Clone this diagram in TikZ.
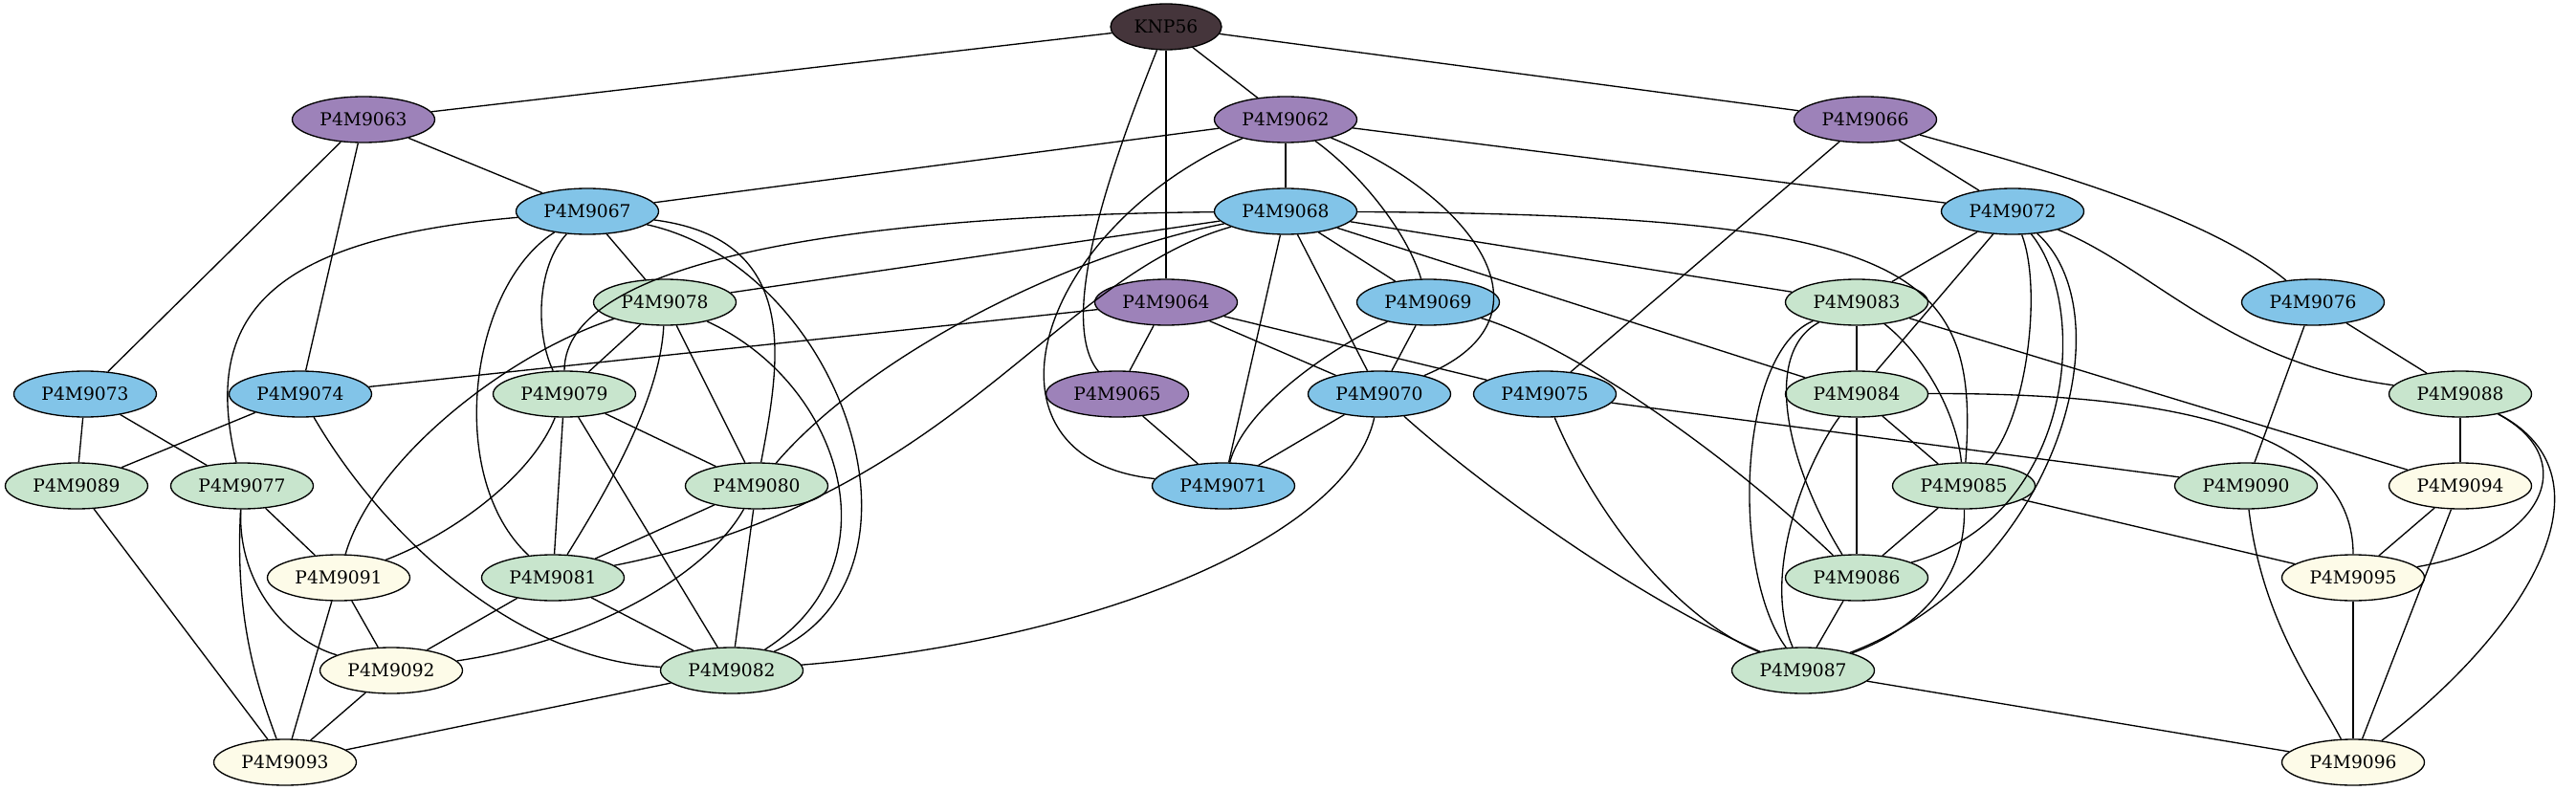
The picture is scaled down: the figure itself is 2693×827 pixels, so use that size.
\documentclass[tikz,border=0pt]{standalone}
\usepackage{fontspec}
\setmainfont{DejaVu Serif}
\usetikzlibrary{shapes.geometric}

\definecolor{knpfill}{HTML}{45353B}
\definecolor{purpfill}{HTML}{9D82B9}
\definecolor{bluefill}{HTML}{82C4E8}
\definecolor{greenfill}{HTML}{C8E5CD}
\definecolor{creamfill}{HTML}{FDFBE8}

\tikzset{
    gene/.style={ellipse, draw=black, line width=1pt, inner sep=0pt,
        minimum width=111.75pt, minimum height=36pt,
        font=\fontsize{14}{16}\selectfont},
    link/.style={line width=1pt},
}

\begin{document}
\begin{tikzpicture}[x=0.75pt, y=-0.75pt]
    \useasboundingbox (0,0) rectangle (2693,827);

    \node[gene, fill=knpfill, minimum width=87pt] (KNP56) at (1219,28) {KNP56};
    \foreach \n/\x/\y in {P4M9062/1344/125, P4M9063/380/125, P4M9066/1950/125,
        P4M9064/1219/316, P4M9065/1168/412}
        \node[gene, fill=purpfill] (\n) at (\x,\y) {\n};
    \foreach \n/\x/\y in {P4M9067/614/221, P4M9068/1344/221, P4M9072/2104/221,
        P4M9069/1493/316, P4M9076/2418/316, P4M9073/89/412, P4M9074/314/412,
        P4M9070/1442/412, P4M9075/1615/412, P4M9071/1279/508}
        \node[gene, fill=bluefill] (\n) at (\x,\y) {\n};
    \foreach \n/\x/\y in {P4M9078/695/316, P4M9083/1941/316, P4M9079/590/412,
        P4M9084/1941/412, P4M9088/2572/412, P4M9089/80/508, P4M9077/253/508,
        P4M9080/791/508, P4M9085/2053/508, P4M9090/2348/508, P4M9081/578/604,
        P4M9086/1941/604, P4M9082/765/701, P4M9087/1885/701}
        \node[gene, fill=greenfill] (\n) at (\x,\y) {\n};
    \foreach \n/\x/\y in {P4M9094/2572/508, P4M9091/354/604, P4M9095/2460/604,
        P4M9092/409/701, P4M9093/298/797, P4M9096/2460/797}
        \node[gene, fill=creamfill] (\n) at (\x,\y) {\n};

    % straight edges
    \foreach \a/\b in {KNP56/P4M9063, KNP56/P4M9062, KNP56/P4M9066, KNP56/P4M9064,
        P4M9063/P4M9067, P4M9063/P4M9073, P4M9063/P4M9074,
        P4M9062/P4M9067, P4M9062/P4M9068, P4M9062/P4M9072,
        P4M9066/P4M9072, P4M9066/P4M9075, P4M9067/P4M9078,
        P4M9068/P4M9078, P4M9068/P4M9069, P4M9068/P4M9070, P4M9068/P4M9071,
        P4M9068/P4M9083, P4M9068/P4M9084, P4M9072/P4M9083, P4M9072/P4M9084,
        P4M9078/P4M9079, P4M9078/P4M9080,
        P4M9064/P4M9074, P4M9064/P4M9065, P4M9064/P4M9070, P4M9064/P4M9075,
        P4M9069/P4M9070, P4M9083/P4M9084, P4M9083/P4M9094,
        P4M9076/P4M9088, P4M9076/P4M9090,
        P4M9073/P4M9089, P4M9073/P4M9077, P4M9074/P4M9089,
        P4M9079/P4M9080, P4M9079/P4M9081, P4M9079/P4M9082,
        P4M9065/P4M9071, P4M9070/P4M9071, P4M9075/P4M9090,
        P4M9084/P4M9085, P4M9084/P4M9086, P4M9088/P4M9094,
        P4M9077/P4M9091, P4M9080/P4M9081, P4M9080/P4M9082,
        P4M9089/P4M9093, P4M9085/P4M9086, P4M9085/P4M9095,
        P4M9094/P4M9095, P4M9094/P4M9096, P4M9091/P4M9092, P4M9091/P4M9093,
        P4M9081/P4M9082, P4M9081/P4M9092, P4M9086/P4M9087,
        P4M9095/P4M9096, P4M9092/P4M9093, P4M9082/P4M9093, P4M9087/P4M9096}
        \draw[link] (\a) -- (\b);

    % curved edges
    \draw[link] (KNP56) .. controls (1175,140) and (1100,330) .. (P4M9065);
    \draw[link] (P4M9062) .. controls (1080,240) and (1010,480) .. (P4M9071);
    \draw[link] (P4M9062) .. controls (1420,180) and (1470,240) .. (P4M9069);
    \draw[link] (P4M9062) .. controls (1530,200) and (1640,330) .. (P4M9070);
    \draw[link] (P4M9067) .. controls (280,250) and (210,330) .. (P4M9077);
    \draw[link] (P4M9067) .. controls (560,280) and (560,350) .. (P4M9079);
    \draw[link] (P4M9067) .. controls (490,300) and (465,500) .. (P4M9081);
    \draw[link] (P4M9067) .. controls (840,250) and (815,380) .. (P4M9080);
    \draw[link] (P4M9067) .. controls (880,280) and (990,600) .. (P4M9082);
    \draw[link] (P4M9068) .. controls (900,225) and (590,270) .. (P4M9079);
    \draw[link] (P4M9068) .. controls (1100,270) and (900,380) .. (P4M9080);
    \draw[link] (P4M9068) .. controls (1100,290) and (1000,520) .. (P4M9081);
    \draw[link] (P4M9068) .. controls (2000,225) and (2070,280) .. (P4M9085);
    \draw[link] (P4M9069) .. controls (1380,370) and (1300,430) .. (P4M9071);
    \draw[link] (P4M9069) .. controls (1640,360) and (1800,470) .. (P4M9086);
    \draw[link] (P4M9066) .. controls (2110,170) and (2300,220) .. (P4M9076);
    \draw[link] (P4M9072) .. controls (2250,280) and (2330,380) .. (P4M9088);
    \draw[link] (P4M9072) .. controls (2135,300) and (2120,440) .. (P4M9085);
    \draw[link] (P4M9072) .. controls (2185,320) and (2170,540) .. (P4M9086);
    \draw[link] (P4M9072) .. controls (2225,330) and (2150,600) .. (P4M9087);
    \draw[link] (P4M9083) .. controls (1840,370) and (1870,490) .. (P4M9086);
    \draw[link] (P4M9083) .. controls (1815,370) and (1810,600) .. (P4M9087);
    \draw[link] (P4M9083) .. controls (2010,370) and (2045,430) .. (P4M9085);
    \draw[link] (P4M9084) .. controls (1890,480) and (1840,600) .. (P4M9087);
    \draw[link] (P4M9084) .. controls (2300,410) and (2460,460) .. (P4M9095);
    \draw[link] (P4M9085) .. controls (2055,610) and (2000,660) .. (P4M9087);
    \draw[link] (P4M9075) .. controls (1660,520) and (1740,640) .. (P4M9087);
    \draw[link] (P4M9070) .. controls (1540,500) and (1700,620) .. (P4M9087);
    \draw[link] (P4M9070) .. controls (1410,560) and (1150,670) .. (P4M9082);
    \draw[link] (P4M9074) .. controls (400,560) and (540,690) .. (P4M9082);
    \draw[link] (P4M9077) .. controls (248,610) and (300,670) .. (P4M9092);
    \draw[link] (P4M9077) .. controls (245,650) and (270,720) .. (P4M9093);
    \draw[link] (P4M9079) .. controls (555,500) and (470,560) .. (P4M9091);
    \draw[link] (P4M9080) .. controls (740,600) and (620,670) .. (P4M9092);
    \draw[link] (P4M9078) .. controls (530,370) and (390,480) .. (P4M9091);
    \draw[link] (P4M9078) .. controls (690,420) and (630,520) .. (P4M9081);
    \draw[link] (P4M9078) .. controls (880,400) and (940,590) .. (P4M9082);
    \draw[link] (P4M9090) .. controls (2365,650) and (2420,720) .. (P4M9096);
    \draw[link] (P4M9088) .. controls (2700,480) and (2660,570) .. (P4M9095);
    \draw[link] (P4M9088) .. controls (2740,500) and (2640,660) .. (P4M9096);
\end{tikzpicture}
\end{document}
